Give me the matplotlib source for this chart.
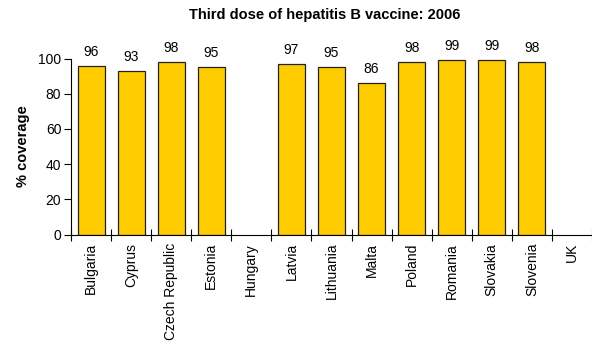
import numpy as np
import matplotlib.pyplot as plt

plt.rcParams["font.family"] = ["Liberation Sans", "DejaVu Sans"]

# Hepatitis B third dose coverage by country, 2006 (None = no data)
countries = ["Bulgaria", "Cyprus", "Czech Republic", "Estonia", "Hungary", "Latvia",
             "Lithuania", "Malta", "Poland", "Romania", "Slovakia", "Slovenia", "UK"]
coverage = [96, 93, 98, 95, None, 97, 95, 86, 98, 99, 99, 98, None]

fig = plt.figure(figsize=(5.92, 3.49), dpi=100)
ax = fig.add_axes([0.12, 0.328, 0.88, 0.504])

x = np.arange(len(countries))
for xi, val in zip(x, coverage):
    if val is None:
        continue
    ax.bar(xi, val, width=0.67, color="#FFCC00", edgecolor="#222222", linewidth=0.9, zorder=2)
    ax.text(xi, val + 4, str(val), ha="center", va="bottom", fontsize=10, clip_on=False)

ax.set_xlim(-0.5, len(countries) - 0.5)
ax.set_ylim(0, 100)
ax.set_yticks(np.arange(0, 101, 20))
ax.tick_params(axis="y", direction="out", length=5, width=0.8, labelsize=10, pad=2)

# category ticks sit on the boundaries between bars
ax.set_xticks(np.arange(-0.5, len(countries), 1.0))
ax.set_xticklabels([])
ax.tick_params(axis="x", direction="inout", length=9, width=0.8)
ax.set_xticks(x, minor=True)
ax.set_xticklabels(countries, minor=True, rotation=90, fontsize=10)
ax.tick_params(axis="x", which="minor", length=0, pad=6)

for side in ["top", "right"]:
    ax.spines[side].set_visible(False)
ax.spines["left"].set_linewidth(0.8)
ax.spines["bottom"].set_linewidth(0.8)

ax.set_ylabel("% coverage", fontsize=10.5, fontweight="bold", labelpad=6)
fig.text(0.549, 0.958, "Third dose of hepatitis B vaccine: 2006",
         ha="center", va="center", fontsize=10.5, fontweight="bold")

fig.savefig("out.png", dpi=100)
